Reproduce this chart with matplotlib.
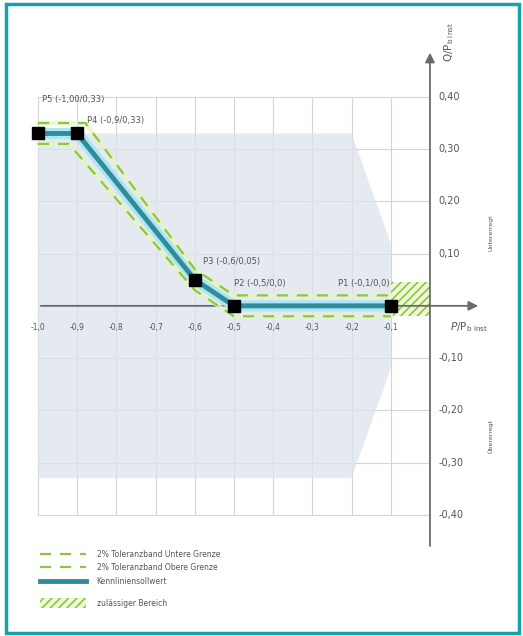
import matplotlib.pyplot as plt
from matplotlib.patches import Polygon, Rectangle
from matplotlib.lines import Line2D

# Kennlinie points (P/Pb inst, Q/Pb inst)
pt_x = [-1.0, -0.9, -0.6, -0.5, -0.1]
pt_y = [0.33, 0.33, 0.05, 0.0, 0.0]
pt_labels = ["P5 (-1,00/0,33)", "P4 (-0,9/0,33)", "P3 (-0,6/0,05)",
             "P2 (-0,5/0,0)", "P1 (-0,1/0,0)"]
label_pos = [(-0.99, 0.395), (-0.875, 0.355), (-0.58, 0.085),
             (-0.5, 0.043), (-0.235, 0.043)]

# 2% tolerance band
upper_x = [-1.0, -0.879, -0.6, -0.5, -0.1]
upper_y = [0.35, 0.35, 0.07, 0.02, 0.02]
lower_x = [-1.0, -0.921, -0.6, -0.5, -0.1]
lower_y = [0.31, 0.31, 0.03, -0.02, -0.02]

# grey operating area
area_x = [-1.0, -0.2, -0.1, -0.1, -0.2, -1.0]
area_y = [0.33, 0.33, 0.12, -0.12, -0.33, -0.33]

# allowed region
allowed_x = (-0.1, 0.0)
allowed_y = (-0.02, 0.045)

x_ticks = [-1.0, -0.9, -0.8, -0.7, -0.6, -0.5, -0.4, -0.3, -0.2, -0.1]
y_ticks = [0.4, 0.3, 0.2, 0.1, -0.1, -0.2, -0.3, -0.4]

teal = "#2f8c9c"
halo = "#aee6ef"
green = "#8dc63f"
txt = "#555555"
axis_col = "#6b6b6b"

plt.rcParams["hatch.linewidth"] = 1.2
plt.rcParams["hatch.color"] = green

fig = plt.figure(figsize=(5.23, 6.36), dpi=100)
ax = fig.add_axes([0.0577, 0.1085, 0.9143, 0.8623])
ax.set_xlim(-1.02, 0.2)
ax.set_ylim(-0.5, 0.55)
ax.axis("off")

# grid
for x in x_ticks:
    ax.plot([x, x], [-0.4, 0.4], color="#d4d4d4", lw=0.8, zorder=1)
for y in [0.4, 0.3, 0.2, 0.1, 0.0, -0.1, -0.2, -0.3, -0.4]:
    ax.plot([-1.0, 0.0], [y, y], color="#d4d4d4", lw=0.8, zorder=1)

ax.add_patch(Polygon(list(zip(area_x, area_y)), closed=True,
                     facecolor="#dde3ec", edgecolor="none", alpha=0.75, zorder=2))

# allowed region
ax.add_patch(Rectangle((allowed_x[0], allowed_y[0]), allowed_x[1] - allowed_x[0],
                       allowed_y[1] - allowed_y[0], facecolor="#eef7d8",
                       edgecolor=green, hatch="////", lw=0, zorder=3))

# axes with arrows
ax.annotate("", xy=(0.13, 0), xytext=(-1.0, 0),
            arrowprops=dict(arrowstyle="-|>", color=axis_col, lw=1.3,
                            mutation_scale=14), zorder=4)
ax.annotate("", xy=(0, 0.49), xytext=(0, -0.465),
            arrowprops=dict(arrowstyle="-|>", color=axis_col, lw=1.3,
                            mutation_scale=14), zorder=4)

# Kennlinie with halo, tolerance band
ax.plot(pt_x, pt_y, color=halo, lw=8, solid_capstyle="butt", zorder=5)
ax.plot(pt_x, pt_y, color=teal, lw=3.5, solid_capstyle="butt", zorder=6)
for bx, by in [(upper_x, upper_y), (lower_x, lower_y)]:
    ax.plot(bx, by, color="#e6f5c4", lw=3.2, zorder=6.5, alpha=0.8)
    ax.plot(bx, by, color=green, lw=1.6, ls=(0, (5, 4)), zorder=7)
ax.plot(pt_x, pt_y, ls="none", marker="s", ms=8.5, color="black", zorder=8)

for lab, (lx, ly) in zip(pt_labels, label_pos):
    ax.text(lx, ly, lab, fontsize=6, color=txt, ha="left", va="center", zorder=9)

# tick labels
for x in x_ticks:
    ax.text(x, -0.042, f"{x:.1f}".replace(".", ","), fontsize=5.5, color=txt,
            ha="center", va="center")
for y in y_ticks:
    ax.text(0.022, y, f"{y:.2f}".replace(".", ","), fontsize=7, color=txt,
            ha="left", va="center")

ax.text(0.05, 0.505, r"Q/P$_{\mathregular{b\ inst}}$", fontsize=7.5, color=txt,
        rotation=90, ha="center", va="center")
ax.text(0.05, -0.04, r"$\it{P}$/P$_{\mathregular{b\ inst}}$", fontsize=7.5,
        color=txt, ha="left", va="center")
ax.text(0.155, 0.14, "Untererregt", fontsize=4.5, color=txt, rotation=90,
        ha="center", va="center")
ax.text(0.155, -0.25, "Übererregt", fontsize=4.5, color=txt, rotation=90,
        ha="center", va="center")

line_handles = [
    Line2D([], [], color=green, lw=1.6, ls=(0, (5, 4))),
    Line2D([], [], color=green, lw=1.6, ls=(0, (5, 4))),
    Line2D([], [], color=teal, lw=3.5),
]
line_labels = ["2% Toleranzband Untere Grenze", "2% Toleranzband Obere Grenze",
               "Kennliniensollwert"]
leg1 = fig.legend(line_handles, line_labels, loc="center left",
                  bbox_to_anchor=(40 / 523, 1 - 568 / 636),
                  bbox_transform=fig.transFigure, frameon=False, fontsize=5.5,
                  handlelength=6, handletextpad=1.4, labelspacing=0.64,
                  handleheight=1.0, borderpad=0, borderaxespad=0)
patch_handle = Rectangle((0, 0), 1, 1, facecolor="#eef7d8", edgecolor=green,
                         hatch="////", lw=0)
leg2 = fig.legend([patch_handle], ["zulässiger Bereich"], loc="center left",
                  bbox_to_anchor=(40 / 523, 1 - 603 / 636),
                  bbox_transform=fig.transFigure, frameon=False, fontsize=5.5,
                  handlelength=6, handletextpad=1.4, handleheight=1.6,
                  borderpad=0, borderaxespad=0)
for lg in (leg1, leg2):
    for t in lg.get_texts():
        t.set_color(txt)

# outer teal frame
fig.patches.append(Rectangle((6 / 523, 3 / 636), 513 / 523, 629 / 636,
                             transform=fig.transFigure, fill=False,
                             edgecolor="#19a1a9", lw=2.5))

fig.savefig("out.png", dpi=100)
